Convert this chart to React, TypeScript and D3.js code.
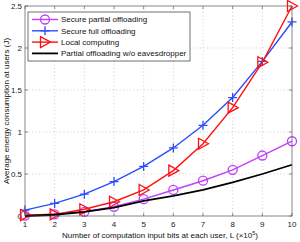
import React from "react";
import * as d3 from "d3";

const xValues = [1, 2, 3, 4, 5, 6, 7, 8, 9, 10];
const securePartial = [0.005, 0.02, 0.05, 0.11, 0.2, 0.31, 0.42, 0.55, 0.72, 0.89];
const secureFull = [0.07, 0.15, 0.26, 0.41, 0.59, 0.81, 1.08, 1.41, 1.84, 2.31];
const localComputing = [0.01, 0.02, 0.08, 0.17, 0.31, 0.54, 0.86, 1.29, 1.83, 2.5];
const noEavesdropper = [0.0, 0.015, 0.05, 0.1, 0.18, 0.24, 0.31, 0.4, 0.5, 0.61];
const yTicks = [0, 0.5, 1, 1.5, 2, 2.5];

const legendNames = [
  "Secure partial offloading",
  "Secure full offloading",
  "Local computing",
  "Partial offloading w/o eavesdropper",
];

const W = 300;
const H = 242;
const margin = { top: 6, right: 8, bottom: 26, left: 25 };
const font = "'Liberation Sans', Arial, sans-serif";

function Marker({ kind, x, y, color }: { kind: string; x: number; y: number; color: string }) {
  if (kind === "circle") {
    return <circle cx={x} cy={y} r={4.5} fill="none" stroke={color} strokeWidth={1.3} />;
  }
  if (kind === "plus") {
    return (
      <path
        d={`M${x - 4.5},${y}H${x + 4.5}M${x},${y - 4.5}V${y + 4.5}`}
        stroke={color}
        strokeWidth={1.3}
      />
    );
  }
  if (kind === "tri") {
    return (
      <path
        d={`M${x - 4.5},${y - 5.5}L${x + 5.5},${y}L${x - 4.5},${y + 5.5}Z`}
        fill="none"
        stroke={color}
        strokeWidth={1.3}
      />
    );
  }
  return null;
}

export default function App() {
  const x = d3.scaleLinear().domain([1, 10]).range([margin.left, W - margin.right]);
  const y = d3.scaleLinear().domain([0, 2.5]).range([H - margin.bottom, margin.top]);

  const line = d3
    .line<number>()
    .x((_, i) => x(xValues[i]))
    .y((d) => y(d));

  const series = [
    { data: securePartial, color: "#bf3fff", marker: "circle" },
    { data: secureFull, color: "#2a4cff", marker: "plus" },
    { data: localComputing, color: "#ff1010", marker: "tri" },
    { data: noEavesdropper, color: "#000000", marker: "none" },
  ];

  const x0 = x(1);
  const x1 = x(10);
  const y0 = y(0);
  const y1 = y(2.5);

  // legend box
  const lg = { x: 28, y: 12, w: 162, h: 49 };

  return (
    <svg width={W} height={H} style={{ position: "absolute", left: 0, top: 0, background: "#fff" }}>
      {/* grid */}
      {xValues.slice(1, -1).map((v) => (
        <line key={"gx" + v} x1={x(v)} x2={x(v)} y1={y0} y2={y1} stroke="#b0b0b0" strokeWidth={0.6} strokeDasharray="1,2.5" />
      ))}
      {yTicks.slice(1, -1).map((v) => (
        <line key={"gy" + v} x1={x0} x2={x1} y1={y(v)} y2={y(v)} stroke="#b0b0b0" strokeWidth={0.6} strokeDasharray="1,2.5" />
      ))}

      {/* ticks */}
      {xValues.map((v) => (
        <g key={"tx" + v}>
          <line x1={x(v)} x2={x(v)} y1={y0} y2={y0 - 3} stroke="#444" strokeWidth={0.6} />
          <line x1={x(v)} x2={x(v)} y1={y1} y2={y1 + 3} stroke="#444" strokeWidth={0.6} />
          <text x={x(v)} y={y0 + 11} fontSize={8} fontFamily={font} textAnchor="middle" fill="#222">
            {v}
          </text>
        </g>
      ))}
      {yTicks.map((v) => (
        <g key={"ty" + v}>
          <line x1={x0} x2={x0 + 3} y1={y(v)} y2={y(v)} stroke="#444" strokeWidth={0.6} />
          <line x1={x1} x2={x1 - 3} y1={y(v)} y2={y(v)} stroke="#444" strokeWidth={0.6} />
          <text x={x0 - 3} y={y(v) + 2.8} fontSize={8} fontFamily={font} textAnchor="end" fill="#222">
            {v}
          </text>
        </g>
      ))}

      {/* series */}
      {series.map((s, i) => (
        <g key={"s" + i}>
          <path d={line(s.data) || ""} fill="none" stroke={s.color} strokeWidth={s.marker === "none" ? 1.8 : 1.4} />
          {s.data.map((d, j) => (
            <Marker key={j} kind={s.marker} x={x(xValues[j])} y={y(d)} color={s.color} />
          ))}
        </g>
      ))}

      {/* frame */}
      <rect x={x0} y={y1} width={x1 - x0} height={y0 - y1} fill="none" stroke="#555" strokeWidth={0.7} />

      {/* legend */}
      <rect x={lg.x} y={lg.y} width={lg.w} height={lg.h} fill="#fff" stroke="#333" strokeWidth={0.7} />
      {series.map((s, i) => {
        const ly = lg.y + 7.5 + i * 11.3;
        return (
          <g key={"l" + i}>
            <line x1={32} x2={58} y1={ly} y2={ly} stroke={s.color} strokeWidth={s.marker === "none" ? 1.8 : 1.4} />
            <Marker kind={s.marker} x={45} y={ly} color={s.color} />
            <text x={61} y={ly + 2.8} fontSize={8} fontFamily={font} fill="#111">
              {legendNames[i]}
            </text>
          </g>
        );
      })}

      {/* axis labels */}
      <text x={160} y={H - 4} fontSize={8} fontFamily={font} textAnchor="middle" fill="#111">
        Number of computation input bits at each user, L (×10
        <tspan dy={-3} fontSize={5.5}>5</tspan>
        <tspan dy={3}>)</tspan>
      </text>
      <text
        transform={`translate(9,${(y0 + y1) / 2}) rotate(-90)`}
        fontSize={8}
        fontFamily={font}
        textAnchor="middle"
        fill="#111"
      >
        Average energy consumption at users (J)
      </text>
    </svg>
  );
}
